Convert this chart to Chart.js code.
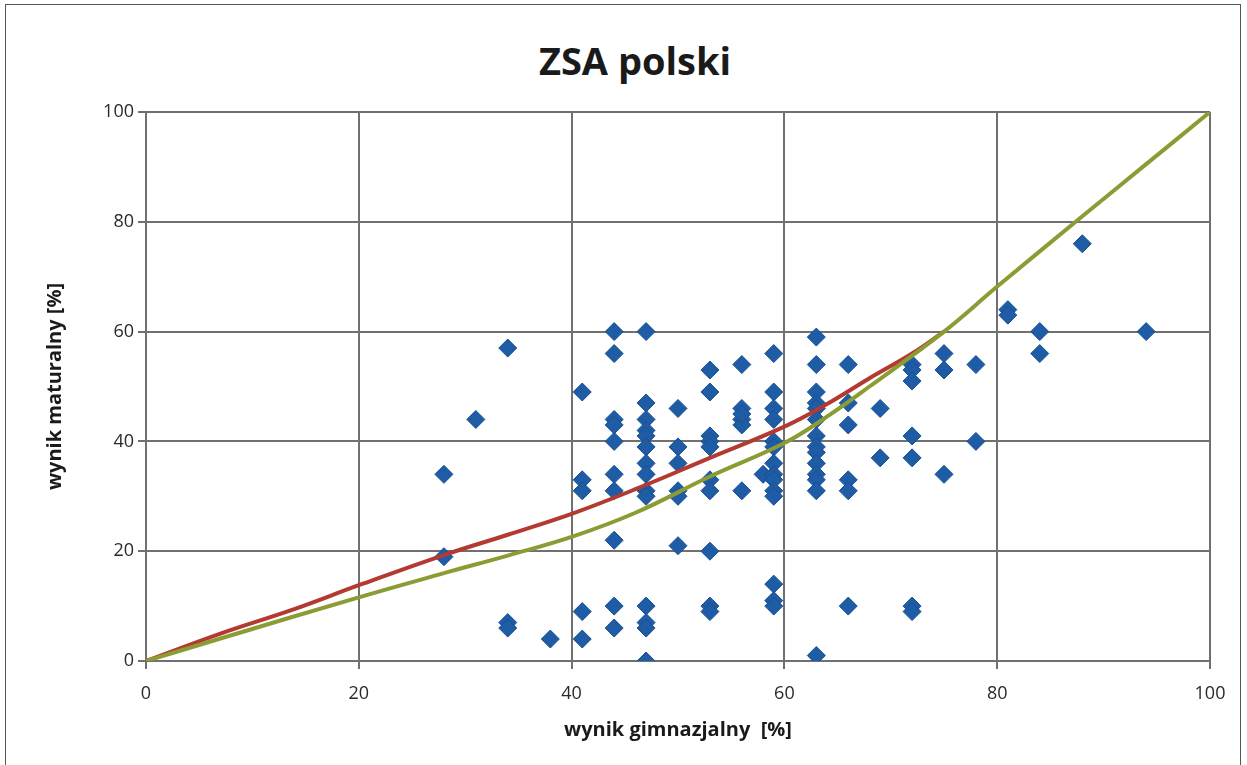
<!DOCTYPE html>
<html>
<head>
<meta charset="utf-8">
<script src="https://cdn.jsdelivr.net/npm/chart.js@4/dist/chart.umd.min.js"></script>
<style>
  html, body { margin: 0; padding: 0; background: #fff; }
  #wrap { position: relative; width: 1247px; height: 765px; overflow: hidden; }
  #frame { position: absolute; left: 5px; top: 4px; width: 1236px; height: 770px;
           border: 1px solid #555; box-sizing: border-box; }
  #title { position: absolute; left: 0; width: 1270px; top: 34px; text-align: center;
           font: bold 38px "Open Sans", sans-serif; color: #1a1a1a; }
  canvas { position: absolute; left: 0; top: 0; }
</style>
</head>
<body>
<div id="wrap">
  <div id="frame"></div>
  <div id="title">ZSA polski</div>
  <canvas id="chart" width="1247" height="765"></canvas>
</div>
<script>
// student results: gimnazjum score (x) vs matura score (y)
const pointsX = [
  28, 28,
  31,
  34, 34, 34,
  38,
  41, 41, 41, 41, 41,
  44, 44, 44, 44, 44, 44, 44, 44, 44, 44,
  47, 47, 47, 47, 47, 47, 47, 47, 47, 47, 47, 47, 47, 47,
  50, 50, 50, 50, 50, 50,
  53, 53, 53, 53, 53, 53, 53, 53, 53, 53,
  56, 56, 56, 56, 56, 56,
  58,
  59, 59, 59, 59, 59, 59, 59, 59, 59, 59, 59, 59, 59, 59,
  63, 63, 63, 63, 63, 63, 63, 63, 63, 63, 63, 63, 63, 63,
  66, 66, 66, 66, 66, 66,
  69, 69,
  72, 72, 72, 72, 72, 72, 72,
  75, 75, 75,
  78, 78,
  81, 81,
  84, 84,
  88,
  94
];
const pointsY = [
  34, 19,
  44,
  57, 7, 6,
  4,
  49, 33, 31, 9, 4,
  60, 56, 44, 43, 40, 34, 31, 22, 10, 6,
  60, 47, 44, 42, 41, 39, 36, 34, 31, 30, 10, 7, 6, 0,
  46, 39, 36, 31, 30, 21,
  53, 49, 41, 40, 39, 33, 31, 20, 10, 9,
  54, 46, 44, 43, 31, 45,
  34,
  56, 49, 46, 44, 40, 39, 36, 34, 33, 31, 30, 14, 11, 10,
  59, 54, 49, 47, 46, 44, 41, 39, 38, 36, 34, 33, 31, 1,
  54, 47, 43, 33, 31, 10,
  46, 37,
  54, 53, 51, 41, 37, 10, 9,
  56, 53, 34,
  54, 40,
  64, 63,
  60, 56,
  76,
  60
];

// red trend curve
const redX = [0, 7, 14, 20, 28, 34, 40, 46, 53, 60, 64, 68, 72, 75];
const redY = [0, 5, 9.5, 13.8, 19.3, 23, 26.8, 31.3, 37, 42.7, 46.8, 51.5, 56, 60];

// green curve
const greenX = [0, 7, 20, 28, 34, 40, 46, 53, 60, 64, 68, 75, 80, 88, 94, 100];
const greenY = [0, 4.1, 11.6, 16, 19.2, 22.6, 27, 33.6, 39.7, 44.5, 50, 60, 68.2, 81, 90.5, 100];

const axisTicks = [0, 20, 40, 60, 80, 100];

const toXY = (xs, ys) => xs.map((x, i) => ({ x: x, y: ys[i] }));

const gridColor = '#707070';
const tickFont = { family: 'Open Sans', size: 18 };
const titleFont = { family: 'Open Sans', size: 20, weight: 'bold' };

new Chart(document.getElementById('chart'), {
    type: 'scatter',
    data: {
        datasets: [
            {
                label: 'krzywa',
                data: toXY(greenX, greenY),
                showLine: true,
                borderColor: '#8c9c34',
                borderWidth: 4,
                pointRadius: 0,
                tension: 0.4,
                order: 0
            },
            {
                label: 'trend',
                data: toXY(redX, redY),
                showLine: true,
                borderColor: '#b23a30',
                borderWidth: 4,
                pointRadius: 0,
                tension: 0.4,
                order: 1
            },
            {
                label: 'uczniowie',
                data: toXY(pointsX, pointsY),
                pointStyle: 'rectRot',
                pointRadius: 9,
                pointHoverRadius: 9,
                backgroundColor: '#1f5ca6',
                borderColor: '#1a4f92',
                borderWidth: 1,
                order: 2
            }
        ]
    },
    options: {
        responsive: false,
        animation: false,
        layout: { padding: { left: 0, top: 112, right: 37, bottom: 0 } },
        plugins: {
            legend: { display: false },
            tooltip: { enabled: false }
        },
        scales: {
            x: {
                type: 'linear',
                min: 0,
                max: 100,
                afterFit: (scale) => { scale.height = 104; },
                afterBuildTicks: (scale) => { scale.ticks = axisTicks.map(v => ({ value: v })); },
                grid: { color: gridColor, lineWidth: 2, tickLength: 8 },
                border: { color: gridColor, width: 2 },
                ticks: { color: '#2a2a2a', font: tickFont, padding: 14 },
                title: {
                    display: true,
                    text: 'wynik gimnazjalny  [%]',
                    color: '#1a1a1a',
                    font: titleFont,
                    padding: { top: 0, bottom: 23 }
                }
            },
            y: {
                type: 'linear',
                min: 0,
                max: 100,
                afterFit: (scale) => { scale.width = 146; },
                afterBuildTicks: (scale) => { scale.ticks = axisTicks.map(v => ({ value: v })); },
                grid: { color: gridColor, lineWidth: 2, tickLength: 8 },
                border: { color: gridColor, width: 2 },
                ticks: { color: '#2a2a2a', font: tickFont, padding: 4 },
                title: {
                    display: true,
                    text: 'wynik maturalny [%]',
                    color: '#1a1a1a',
                    font: titleFont,
                    padding: { top: 43, bottom: 0 }
                }
            }
        }
    }
});
</script>
</body>
</html>
